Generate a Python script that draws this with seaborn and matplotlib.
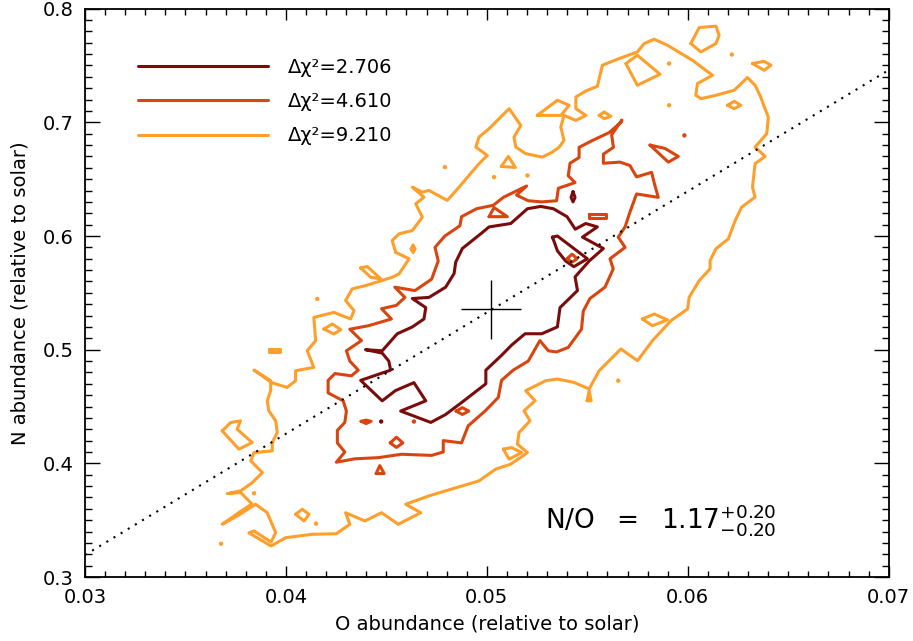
import matplotlib
matplotlib.use("Agg")
import matplotlib.pyplot as plt
import seaborn as sns
import pandas as pd

# ---------------- data ----------------
levels = ["Δχ²=2.706", "Δχ²=4.610", "Δχ²=9.210"]
colors = ["#7a0c0c", "#d9450e", "#ff9f2b"]

# Δχ²=2.706 contour pieces
c1_main_x = [0.05268, 0.05202, 0.05119, 0.05011, 0.04970, 0.04878, 0.04845, 0.04837, 0.04795, 0.04712,
             0.04629, 0.04696, 0.04687, 0.04629, 0.04554, 0.04479, 0.04396, 0.04479, 0.04512, 0.04521,
             0.04372, 0.04479, 0.04545, 0.04637, 0.04696, 0.04571, 0.04721, 0.04795, 0.04878, 0.04995,
             0.04995, 0.05073, 0.05123, 0.05190, 0.05273, 0.05351, 0.05364, 0.05451, 0.05439, 0.05509,
             0.05580, 0.05476, 0.05550, 0.05492, 0.05440, 0.05399, 0.05331]
c1_main_y = [0.626, 0.624, 0.611, 0.608, 0.602, 0.589, 0.577, 0.567, 0.555, 0.546,
             0.545, 0.537, 0.527, 0.520, 0.514, 0.499, 0.500, 0.497, 0.490, 0.482,
             0.473, 0.455, 0.464, 0.471, 0.455, 0.446, 0.436, 0.443, 0.454, 0.470,
             0.482, 0.495, 0.504, 0.514, 0.514, 0.520, 0.537, 0.552, 0.564, 0.578,
             0.589, 0.599, 0.608, 0.611, 0.606, 0.617, 0.624]
c1_loop_x = [0.05326, 0.05351, 0.05500, 0.05433, 0.05392, 0.05351, 0.05335]
c1_loop_y = [0.599, 0.600, 0.580, 0.573, 0.578, 0.587, 0.595]
c1_diam_x = [0.05429, 0.05439, 0.05429, 0.05419]
c1_diam_y = [0.639, 0.634, 0.630, 0.634]
c1_dots_x = [0.04474]
c1_dots_y = [0.4368]

# Δχ²=4.610 contour pieces
c2_main_x = [0.05667, 0.05609, 0.05525, 0.05459, 0.05459, 0.05414, 0.05405, 0.05439, 0.05356, 0.05347,
             0.05273, 0.05206, 0.05148, 0.05198, 0.05082, 0.05032, 0.04949, 0.04874, 0.04866, 0.04791,
             0.04742, 0.04758, 0.04725, 0.04642, 0.04542, 0.04592, 0.04550, 0.04476, 0.04525, 0.04409,
             0.04318, 0.04376, 0.04301, 0.04318, 0.04360, 0.04326, 0.04244, 0.04210, 0.04210, 0.04285,
             0.04301, 0.04293, 0.04256, 0.04256, 0.04293, 0.04251, 0.04343, 0.04459, 0.04575, 0.04725,
             0.04783, 0.04783, 0.04874, 0.04907, 0.04991, 0.05057, 0.05073, 0.05131, 0.05206, 0.05264,
             0.05306, 0.05347, 0.05405, 0.05471, 0.05480, 0.05513, 0.05588, 0.05629, 0.05613, 0.05688,
             0.05654, 0.05688, 0.05712, 0.05745, 0.05853, 0.05834, 0.05820, 0.05745, 0.05712, 0.05663,
             0.05580, 0.05580, 0.05630, 0.05621, 0.05672]
c2_main_y = [0.700, 0.691, 0.684, 0.678, 0.669, 0.664, 0.653, 0.647, 0.642, 0.631,
             0.630, 0.631, 0.636, 0.644, 0.634, 0.627, 0.624, 0.617, 0.609, 0.600,
             0.590, 0.578, 0.562, 0.552, 0.555, 0.546, 0.539, 0.536, 0.527, 0.521,
             0.518, 0.508, 0.499, 0.490, 0.482, 0.477, 0.479, 0.473, 0.462, 0.455,
             0.446, 0.436, 0.429, 0.418, 0.410, 0.401, 0.404, 0.405, 0.408, 0.407,
             0.410, 0.420, 0.418, 0.433, 0.446, 0.458, 0.473, 0.482, 0.490, 0.508,
             0.499, 0.498, 0.502, 0.518, 0.534, 0.545, 0.555, 0.571, 0.580, 0.590,
             0.599, 0.608, 0.621, 0.637, 0.634, 0.646, 0.656, 0.652, 0.662, 0.665,
             0.664, 0.672, 0.678, 0.689, 0.702]
c2_tri_x = [0.05011, 0.05102, 0.05036]
c2_tri_y = [0.617, 0.617, 0.625]
c2_bar_x = [0.05509, 0.05594, 0.05594, 0.05509]
c2_bar_y = [0.619, 0.619, 0.616, 0.616]
c2_in_x = [0.05399, 0.05424, 0.05449, 0.05424]
c2_in_y = [0.580, 0.584, 0.580, 0.577]
c2_ne_x = [0.05812, 0.05887, 0.05953, 0.05903]
c2_ne_y = [0.680, 0.677, 0.670, 0.665]
c2_a_x = [0.04374, 0.04399, 0.04424, 0.04399]
c2_a_y = [0.437, 0.438, 0.437, 0.435]
c2_b_x = [0.04519, 0.04550, 0.04582, 0.04550]
c2_b_y = [0.418, 0.423, 0.418, 0.414]
c2_c_x = [0.04449, 0.04467, 0.04489]
c2_c_y = [0.391, 0.398, 0.391]
c2_d_x = [0.04847, 0.04878, 0.04910, 0.04878]
c2_d_y = [0.446, 0.449, 0.446, 0.443]
c2_dots_x = [0.05983, 0.04637]
c2_dots_y = [0.6885, 0.4368]

# Δχ²=9.210 contour pieces
c3_main_x = [0.04546, 0.04529, 0.04563, 0.04629, 0.04679, 0.04646, 0.04687, 0.04629, 0.04679, 0.04712,
             0.04803, 0.04862, 0.04911, 0.04961, 0.05002, 0.04945, 0.04961, 0.05011, 0.05111, 0.05169,
             0.05135, 0.05144, 0.05194, 0.05276, 0.05326, 0.05360, 0.05384, 0.05368, 0.05384, 0.05443,
             0.05493, 0.05443, 0.05443, 0.05493, 0.05550, 0.05575, 0.05658, 0.05749, 0.05783, 0.05833,
             0.05899, 0.06023, 0.06123, 0.06048, 0.06040, 0.06065, 0.06140, 0.06231, 0.06297, 0.06335,
             0.06363, 0.06381, 0.06401, 0.06393, 0.06335, 0.06385, 0.06335, 0.06322, 0.06335, 0.06268,
             0.06236, 0.06202, 0.06140, 0.06111, 0.06111, 0.06057, 0.06007, 0.05999, 0.05916, 0.05824,
             0.05750, 0.05667, 0.05592, 0.05559, 0.05509, 0.05434, 0.05351, 0.05293, 0.05193, 0.05240,
             0.05185, 0.05215, 0.05160, 0.05152, 0.05202, 0.05119, 0.05044, 0.04961, 0.04878, 0.04795,
             0.04712, 0.04596, 0.04671, 0.04559, 0.04476, 0.04393, 0.04297, 0.04318, 0.04251, 0.04131,
             0.03999, 0.03926, 0.03816, 0.03841, 0.03926, 0.03949, 0.03907, 0.03849, 0.03766, 0.03683,
             0.03771, 0.03831, 0.03775, 0.03708, 0.03775, 0.03833, 0.03883, 0.03825, 0.03841, 0.03932,
             0.03932, 0.03957, 0.03949, 0.03915, 0.03907, 0.03924, 0.03924, 0.03841, 0.03930, 0.04006,
             0.04048, 0.04048, 0.04139, 0.04106, 0.04148, 0.04139, 0.04239, 0.04322, 0.04339, 0.04297,
             0.04330, 0.04397, 0.04529, 0.04563, 0.04613]
c3_main_y = [0.5857, 0.5960, 0.6019, 0.6048, 0.6165, 0.6283, 0.6342, 0.6430, 0.6386, 0.6401,
             0.6313, 0.6430, 0.6533, 0.6636, 0.6709, 0.6782, 0.6870, 0.6944, 0.7120, 0.6973,
             0.6870, 0.6782, 0.6724, 0.6694, 0.6738, 0.6782, 0.6841, 0.6958, 0.7061, 0.7017,
             0.7061, 0.7120, 0.7223, 0.7276, 0.7317, 0.7502, 0.7561, 0.7619, 0.7693, 0.7731,
             0.7678, 0.7546, 0.7414, 0.7341, 0.7238, 0.7208, 0.7238, 0.7282, 0.7394, 0.7326,
             0.7223, 0.7135, 0.7046, 0.6900, 0.6782, 0.6700, 0.6636, 0.6430, 0.6342, 0.6254,
             0.6136, 0.5975, 0.5887, 0.5784, 0.5711, 0.5608, 0.5461, 0.5358, 0.5255, 0.5079,
             0.4903, 0.5006, 0.4874, 0.4815, 0.4654, 0.4712, 0.4742, 0.4727, 0.4639, 0.4551,
             0.4462, 0.4374, 0.4271, 0.4169, 0.4095, 0.3993, 0.3949, 0.3846, 0.3802, 0.3758,
             0.3714, 0.3640, 0.3566, 0.3464, 0.3566, 0.3493, 0.3566, 0.3464, 0.3381, 0.3376,
             0.3346, 0.3273, 0.3388, 0.3405, 0.3308, 0.3390, 0.3566, 0.3640, 0.3546, 0.3464,
             0.3573, 0.3643, 0.3743, 0.3734, 0.3758, 0.3831, 0.3919, 0.4022, 0.4095, 0.4110,
             0.4183, 0.4271, 0.4374, 0.4462, 0.4551, 0.4639, 0.4727, 0.4821, 0.4709, 0.4668,
             0.4727, 0.4815, 0.4844, 0.4991, 0.5079, 0.5284, 0.5328, 0.5270, 0.5343, 0.5432,
             0.5535, 0.5564, 0.5637, 0.5667, 0.5799]
c3_l1_x = [0.05251, 0.05351, 0.05410, 0.05368]
c3_l1_y = [0.7061, 0.7194, 0.7150, 0.7061]
c3_l2_x = [0.03683, 0.03725, 0.03774, 0.03757, 0.03832, 0.03766]
c3_l2_y = [0.4286, 0.4359, 0.4374, 0.4301, 0.4183, 0.4125]
c3_l3_x = [0.04048, 0.04081, 0.04115, 0.04090]
c3_l3_y = [0.3552, 0.3596, 0.3552, 0.3493]
c3_l4_x = [0.04189, 0.04231, 0.04273, 0.04239]
c3_l4_y = [0.5182, 0.5226, 0.5176, 0.5138]
c3_l5_x = [0.03915, 0.03970, 0.03970, 0.03915]
c3_l5_y = [0.5009, 0.5009, 0.4982, 0.4982]
c3_l6_x = [0.04372, 0.04405, 0.04472, 0.04422]
c3_l6_y = [0.5720, 0.5731, 0.5623, 0.5637]
c3_l7_x = [0.04623, 0.04633, 0.04643, 0.04633]
c3_l7_y = [0.5887, 0.5921, 0.5887, 0.5854]
c3_l8_x = [0.05072, 0.05107, 0.05142]
c3_l8_y = [0.6612, 0.6700, 0.6603]
c3_l9_x = [0.05559, 0.05584, 0.05617, 0.05584]
c3_l9_y = [0.7061, 0.7091, 0.7053, 0.7032]
c3_l10_x = [0.06015, 0.06057, 0.06140, 0.06156, 0.06140, 0.06065]
c3_l10_y = [0.7693, 0.7834, 0.7846, 0.7766, 0.7693, 0.7619]
c3_l11_x = [0.05692, 0.05749, 0.05862, 0.05749]
c3_l11_y = [0.7517, 0.7590, 0.7423, 0.7326]
c3_l12_x = [0.06322, 0.06380, 0.06414, 0.06380]
c3_l12_y = [0.7517, 0.7537, 0.7502, 0.7458]
c3_l13_x = [0.06198, 0.06231, 0.06264, 0.06231]
c3_l13_y = [0.7150, 0.7185, 0.7150, 0.7120]
c3_l14_x = [0.05774, 0.05833, 0.05899, 0.05824]
c3_l14_y = [0.5270, 0.5314, 0.5262, 0.5211]
c3_l15_x = [0.05082, 0.05123, 0.05173, 0.05111]
c3_l15_y = [0.4125, 0.4139, 0.4095, 0.4037]
c3_l16_x = [0.05499, 0.05509, 0.05519]
c3_l16_y = [0.4551, 0.4639, 0.4551]
c3_dots_x = [0.04791, 0.05036, 0.05202, 0.06219, 0.05907, 0.05907, 0.05654, 0.04156, 0.03841, 0.04150, 0.03677]
c3_dots_y = [0.6606, 0.6518, 0.6533, 0.7596, 0.7517, 0.7150, 0.4727, 0.5447, 0.3737, 0.3470, 0.3293]

# best fit and N/O line
best_x, best_y = 0.05021, 0.5354
err_x, err_y = 0.00149, 0.0261
ratio_line_x = [0.03, 0.07]
ratio_line_y = [0.3194, 0.7460]
ratio_text = r"$\mathregular{N/O\ \ =\ \ 1.17^{+0.20}_{-0.20}}$"

x_ticks = [0.03, 0.04, 0.05, 0.06, 0.07]
y_ticks = [0.3, 0.4, 0.5, 0.6, 0.7, 0.8]

# ---------------- assemble ----------------
pieces = [
    (0, c1_main_x, c1_main_y), (0, c1_loop_x, c1_loop_y), (0, c1_diam_x, c1_diam_y),
    (1, c2_main_x, c2_main_y), (1, c2_tri_x, c2_tri_y), (1, c2_bar_x, c2_bar_y),
    (1, c2_in_x, c2_in_y), (1, c2_ne_x, c2_ne_y), (1, c2_a_x, c2_a_y), (1, c2_b_x, c2_b_y),
    (1, c2_c_x, c2_c_y), (1, c2_d_x, c2_d_y),
    (2, c3_main_x, c3_main_y), (2, c3_l1_x, c3_l1_y), (2, c3_l2_x, c3_l2_y), (2, c3_l3_x, c3_l3_y),
    (2, c3_l4_x, c3_l4_y), (2, c3_l5_x, c3_l5_y), (2, c3_l6_x, c3_l6_y), (2, c3_l7_x, c3_l7_y),
    (2, c3_l8_x, c3_l8_y), (2, c3_l9_x, c3_l9_y), (2, c3_l10_x, c3_l10_y), (2, c3_l11_x, c3_l11_y),
    (2, c3_l12_x, c3_l12_y), (2, c3_l13_x, c3_l13_y), (2, c3_l14_x, c3_l14_y), (2, c3_l15_x, c3_l15_y),
    (2, c3_l16_x, c3_l16_y),
]
rows = []
for pid, (lev, xs, ys) in enumerate(pieces):
    xs = list(xs) + [xs[0]]
    ys = list(ys) + [ys[0]]
    for a, b in zip(xs, ys):
        rows.append({"x": a, "y": b, "level": levels[lev], "piece": pid})
df = pd.DataFrame(rows)

dot_rows = []
for lev, xs, ys in [(0, c1_dots_x, c1_dots_y), (1, c2_dots_x, c2_dots_y), (2, c3_dots_x, c3_dots_y)]:
    for a, b in zip(xs, ys):
        dot_rows.append({"x": a, "y": b, "level": levels[lev]})
dots = pd.DataFrame(dot_rows)

# ---------------- draw ----------------
sns.set_style("ticks")
plt.rcParams["font.family"] = ["DejaVu Sans"]
plt.rcParams["mathtext.fontset"] = "dejavusans"
plt.rcParams["text.color"] = "black"
plt.rcParams["axes.labelcolor"] = "black"
plt.rcParams["xtick.color"] = "black"
plt.rcParams["ytick.color"] = "black"

fig = plt.figure(figsize=(9.13, 6.41), dpi=100)
ax = fig.add_axes([0.0931, 0.0998, 0.8803, 0.8867])

sns.lineplot(data=df, x="x", y="y", hue="level", hue_order=levels, palette=colors,
             units="piece", estimator=None, sort=False, lw=2.2, ax=ax)
sns.scatterplot(data=dots, x="x", y="y", hue="level", hue_order=levels, palette=colors,
                s=10, linewidth=0, legend=False, ax=ax)
sns.lineplot(x=ratio_line_x, y=ratio_line_y, color="black", lw=1.5,
             linestyle=(0, (1, 3)), ax=ax, legend=False)
ax.errorbar([best_x], [best_y], xerr=[err_x], yerr=[err_y], fmt="none",
            ecolor="black", elinewidth=1.0, capsize=0)

ax.text(0.05291, 0.343, ratio_text, fontsize=19, ha="left", va="baseline", color="black")

handles, labels = ax.get_legend_handles_labels()
leg = ax.legend(handles[:3], labels[:3], loc="upper left", bbox_to_anchor=(0.066, 0.913),
                frameon=False, fontsize=14, handlelength=6.7, handletextpad=1.0,
                labelspacing=0.78, borderpad=0, borderaxespad=0)
for h in leg.get_lines():
    h.set_linewidth(2.2)
for t in leg.get_texts():
    t.set_color("black")

ax.set_xlim(0.03, 0.07)
ax.set_ylim(0.3, 0.8)
ax.set_xticks(x_ticks)
ax.set_yticks(y_ticks)
ax.set_xticklabels([f"{v:.2f}" for v in x_ticks])
ax.set_yticklabels([f"{v:.1f}" for v in y_ticks])
ax.xaxis.set_minor_locator(matplotlib.ticker.MultipleLocator(0.001))
ax.yaxis.set_minor_locator(matplotlib.ticker.MultipleLocator(0.01))
ax.tick_params(which="both", direction="in", top=True, right=True, colors="black",
               labelcolor="black", labelsize=14, width=1.0)
ax.tick_params(axis="x", which="major", length=8, pad=8)
ax.tick_params(axis="x", which="minor", length=4)
ax.tick_params(axis="y", which="major", length=11, pad=8)
ax.tick_params(axis="y", which="minor", length=5)
for s in ax.spines.values():
    s.set_linewidth(1.3)
    s.set_color("black")
    s.set_visible(True)

ax.set_xlabel("O abundance (relative to solar)", fontsize=14, labelpad=5, color="black")
ax.set_ylabel("N abundance (relative to solar)", fontsize=14, labelpad=10, color="black")

fig.savefig("out.png", dpi=100)
